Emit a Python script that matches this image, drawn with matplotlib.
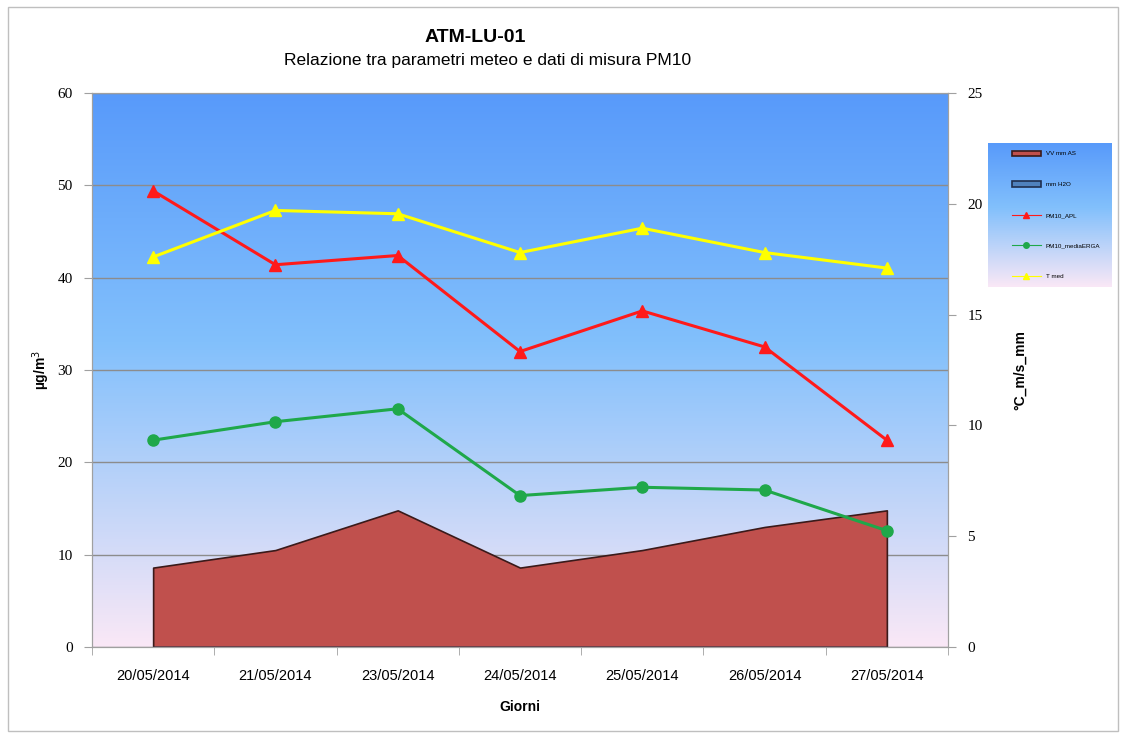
import numpy as np
import matplotlib
matplotlib.use("Agg")
import matplotlib.pyplot as plt
from matplotlib.patches import Rectangle, Patch
from matplotlib.lines import Line2D

giorni = ['20/05/2014', '21/05/2014', '23/05/2014', '24/05/2014',
          '25/05/2014', '26/05/2014', '27/05/2014']
vv_area = [8.6, 10.5, 14.8, 8.6, 10.5, 13.0, 14.8]
mm_h2o = [0, 0, 0, 0, 0, 0, 0]
pm10_apl = [49.4, 41.4, 42.4, 32.0, 36.4, 32.5, 22.4]
pm10_media = [22.4, 24.4, 25.8, 16.4, 17.3, 17.0, 12.6]
t_med = [17.6, 19.7, 19.55, 17.8, 18.9, 17.8, 17.1]

W, H = 1126, 738
fig = plt.figure(figsize=(W / 100, H / 100), dpi=100)
plt.rcParams['font.family'] = ['Liberation Sans', 'DejaVu Sans']

# cornice esterna del grafico
fig.patches.append(Rectangle((8 / W, 7 / H), 1110 / W, 724 / H, transform=fig.transFigure,
                             fill=False, edgecolor='#bfbfbf', linewidth=1))

# sfondo sfumato blu -> rosa
top = np.array([88, 154, 250]) / 255
mid = np.array([130, 192, 252]) / 255
bot = np.array([250, 232, 246]) / 255
t = np.linspace(0, 1, 256)[:, None]
grad = np.where(t < 0.45, top + (mid - top) * (t / 0.45),
                mid + (bot - mid) * ((t - 0.45) / 0.55))
grad = grad[:, None, :]

ax = fig.add_axes([92 / W, 91 / H, 856 / W, 554 / H])
ax.imshow(grad, extent=[0, 1, 0, 1], transform=ax.transAxes, aspect='auto', zorder=0)

x = np.arange(len(giorni))
ax.fill_between(x, vv_area, 0, facecolor='#c0504d', edgecolor='#3a1a1a',
                linewidth=1.2, zorder=1)
ax.fill_between(x, mm_h2o, 0, facecolor='#4f81bd', edgecolor='#1f2f4f',
                linewidth=1.0, zorder=1)
ax.plot(x, pm10_apl, color='#ff1a1a', linewidth=2.2, marker='^', markersize=8, zorder=3)
ax.plot(x, pm10_media, color='#1fa84a', linewidth=2.2, marker='o', markersize=8, zorder=3)

ax.set_xlim(-0.5, len(giorni) - 0.5)
ax.set_ylim(0, 60)
ax.set_yticks(range(0, 61, 10))
ax.set_xticks(x)
ax.set_xticklabels(giorni, fontsize=10.5)
ax.set_xticks(np.arange(-0.5, len(giorni), 1), minor=True)
ax.tick_params(axis='x', which='major', length=0, pad=16)
ax.tick_params(axis='x', which='minor', length=6, color='#a0a0a0', direction='out')
ax.tick_params(axis='y', length=6, color='#a0a0a0', direction='out', pad=8)
for lab in ax.get_yticklabels():
    lab.set_family(['Liberation Serif'])
    lab.set_fontsize(11)
ax.set_axisbelow(True)
ax.grid(axis='y', color='#8c8c8c', linewidth=1)
for s in ax.spines.values():
    s.set_color('#a0a0a0')
ax.set_ylabel('µg/m$^3$', fontsize=10, fontweight='bold', labelpad=4)
ax.set_xlabel('Giorni', fontsize=10, fontweight='bold', labelpad=12)

ax2 = ax.twinx()
ax2.plot(x, t_med, color='#ffff00', linewidth=2.2, marker='^', markersize=8, zorder=3)
ax2.set_ylim(0, 25)
ax2.set_yticks(range(0, 26, 5))
ax2.tick_params(axis='y', length=6, color='#a0a0a0', direction='out', pad=8)
for lab in ax2.get_yticklabels():
    lab.set_family(['Liberation Serif'])
    lab.set_fontsize(11)
for s in ax2.spines.values():
    s.set_color('#a0a0a0')
ax2.set_ylabel('°C_m/s_mm', fontsize=10, fontweight='bold', labelpad=22)

fig.text(475 / W, 1 - 38 / H, 'ATM-LU-01', ha='center', va='center',
         fontsize=14, fontweight='bold')
fig.text(488 / W, 1 - 60 / H, 'Relazione tra parametri meteo e dati di misura PM10',
         ha='center', va='center', fontsize=12.5)

# legenda con sfondo sfumato
lax = fig.add_axes([988 / W, (H - 287) / H, 124 / W, 144 / H])
lax.imshow(grad, extent=[0, 1, 0, 1], aspect='auto')
lax.set_xlim(0, 1)
lax.set_ylim(0, 1)
lax.axis('off')
handles = [
    Patch(facecolor='#c0504d', edgecolor='#3a1a1a', linewidth=1.2),
    Patch(facecolor='#4f81bd', edgecolor='#1f2f4f', linewidth=1.2),
    Line2D([], [], color='#ff1a1a', linewidth=0.8, marker='^', markersize=4),
    Line2D([], [], color='#1fa84a', linewidth=0.8, marker='o', markersize=4),
    Line2D([], [], color='#ffff00', linewidth=0.8, marker='^', markersize=4),
]
labels = ['VV mm AS', 'mm H2O', 'PM10_APL', 'PM10_mediaERGA', 'T med']
lax.legend(handles, labels, loc='center', frameon=False, fontsize=4.5,
           labelspacing=4.0, handlelength=4.5, handleheight=0.9, borderpad=0.5,
           bbox_to_anchor=(0.55, 0.5))

fig.savefig('out.png', dpi=100)
